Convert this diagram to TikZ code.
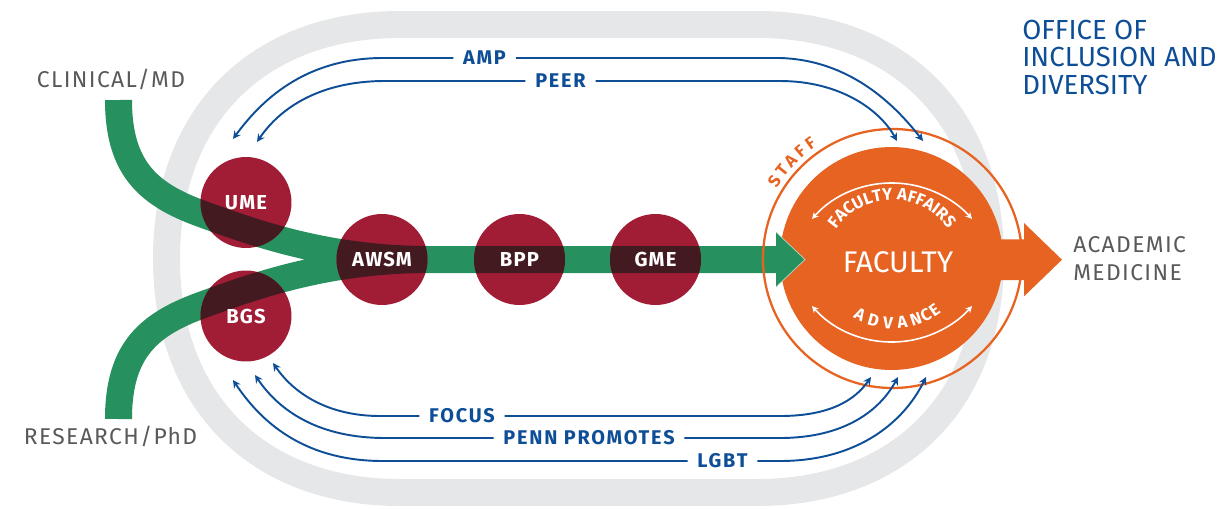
\documentclass[tikz,border=0pt]{standalone}
\usepackage{fontspec}
\setmainfont{Fira Sans}
\newfontfamily\spacedfont[LetterSpace=6]{Fira Sans}
\newfontfamily\widefont[LetterSpace=9]{Fira Sans}
\usetikzlibrary{arrows.meta,decorations.text,calc}
\definecolor{ringgray}{RGB}{230,231,232}
\definecolor{pathgreen}{RGB}{38,145,94}
\definecolor{circred}{RGB}{161,28,53}
\definecolor{darkover}{RGB}{68,26,33}
\definecolor{oidblue}{RGB}{14,78,150}
\definecolor{facorange}{RGB}{230,99,34}
\definecolor{labgray}{RGB}{88,89,91}
\newcommand\stagefont{\spacedfont\bfseries\fontsize{11.5}{13}\selectfont}
\newcommand\flowfont{\widefont\bfseries\fontsize{11.3}{13}\selectfont}
\newcommand\outerfont{\spacedfont\fontsize{13}{15.6}\selectfont}
\newcommand\oidfont{\fontsize{15.7}{15.65}\selectfont}
\newcommand\facbigfont{\fontsize{17}{18}\selectfont}
\newcommand\facarcfont{\color{white}\bfseries\fontsize{9.6}{11}\selectfont}
\newcommand\smallarcfont{\bfseries\fontsize{9.6}{11}\selectfont}
\begin{document}
\begin{tikzpicture}[x=0.02cm,y=-0.02cm,
  greenband/.style={line width=0.54cm, draw=pathgreen},
  stagecirc/.style={circle, fill=circred, minimum size=1.82cm, inner sep=0pt},
  stagetext/.style={text=white, font=\stagefont, inner sep=0pt},
  flowlbl/.style={text=oidblue, font=\flowfont, inner xsep=0.19cm, inner ysep=0pt},
  bl/.style={draw=oidblue, line width=1.1pt, >={Stealth[length=4.5pt,width=4.5pt]}},
  warc/.style={draw=white, line width=0.9pt, >={Stealth[length=3.8pt,width=3.8pt]}},
  outlbl/.style={text=labgray, font=\outerfont, inner sep=0pt},
  advlbl/.style={text=white, font=\smallarcfont, inner sep=0pt},
  stafflbl/.style={text=facorange, font=\smallarcfont, inner sep=0pt}]
\useasboundingbox (0,0) rectangle (1232,508);

% grey track
\draw[ringgray, line width=0.54cm] (400,24.5) -- (757,24.5)
  .. controls (899.4,24.5) and (990.5,115.8) .. (990.5,258.5)
  .. controls (990.5,401.2) and (899.4,492.5) .. (757,492.5) -- (400,492.5)
  .. controls (257.6,492.5) and (166.5,401.2) .. (166.5,258.5)
  .. controls (166.5,115.8) and (257.6,24.5) .. (400,24.5) -- cycle;

% green routes
\coordinate (mdstart) at (118.5,100);
\coordinate (phdstart) at (118.5,419);
\coordinate (join) at (430,259.5);
\coordinate (shaftend) at (777,259.5);
\def\greenroutes{(mdstart) .. controls (118.5,170) and (150,195) .. (202,214)
  .. controls (260,235) and (330,259.5) .. (join) -- (shaftend)
  (phdstart) .. controls (118.5,349) and (150,324) .. (202,305)
  .. controls (260,284) and (330,259.5) .. (join)}
\draw[greenband] \greenroutes;

% stages
\node[stagecirc] (ume) at (246,202.5) {};
\node[stagecirc] (bgs) at (246,316) {};
\node[stagecirc] (awsm) at (382,259.5) {};
\node[stagecirc] (bpp) at (519.5,259.5) {};
\node[stagecirc] (gme) at (655.5,259.5) {};
\begin{scope}
  \clip (ume.center) circle[radius=45.5] (bgs.center) circle[radius=45.5]
    (awsm.center) circle[radius=45.5] (bpp.center) circle[radius=45.5]
    (gme.center) circle[radius=45.5];
  \draw[greenband, draw=darkover] \greenroutes;
\end{scope}
\node[stagetext] (umet) at (ume.center) {UME};
\node[stagetext] (bgst) at (bgs.center) {BGS};
\node[stagetext] (awsmt) at (awsm.center) {AWSM};
\node[stagetext] (bppt) at (bpp.center) {BPP};
\node[stagetext] (gmet) at (gme.center) {GME};

% faculty
\fill[facorange] (990,239.3) -- (1024,239.3) -- (1024,223) -- (1062,259.7)
  -- (1024,296.4) -- (1024,280.1) -- (990,280.1) -- cycle;
\node[circle, fill=facorange, minimum size=4.46cm, inner sep=0pt] (facdisk) at (891.5,258.5) {};
\draw[facorange, line width=1.3pt] (892.5,258.5) circle[radius=129.5];
\fill[pathgreen] (776,232) -- (805,259.5) -- (776,287) -- cycle;
\draw[white!65!pathgreen, line width=0.4pt] (776,232) -- (805,259.5) -- (776,287);
\node[text=white, font=\facbigfont, inner sep=0pt] (factxt) at (898,262) {FACULTY};

\coordinate (faatop) at (892,290);
\coordinate (advbot) at (892,235);
\draw[warc, <->] ([shift={(-138.4:107)}]faatop) arc[start angle=-138.4, end angle=-41.6, radius=107];
\draw[warc, <->] ([shift={(138.4:107)}]advbot) arc[start angle=138.4, end angle=41.6, radius=107];
\coordinate (faac) at (892,268);
\path[decorate, decoration={text along path, text align=center,
  text={|\facarcfont|FACULTY AFFAIRS}}]
  ([shift={(-170:68)}]faac) arc[start angle=-170, end angle=-10, radius=68];
\coordinate (advc) at (893,251);
\foreach \ch/\a [count=\i] in {A/242.6, D/254.2, V/266, A/277.5, N/288.5, C/297, E/305}
  \node[advlbl, rotate=\a+90] (adv\i) at ([shift={(-\a:72)}]advc) {\ch};
\coordinate (staffc) at (892,258.5);
\foreach \ch/\a [count=\i] in {S/146.6, T/141.3, A/136, F/130.7, F/125.4}
  \node[stafflbl, rotate=\a-90] (staff\i) at ([shift={(-\a:141)}]staffc) {\ch};

% programmes (blue arrows)
\node[flowlbl] (amp) at (484.5,58) {AMP};
\node[flowlbl] (peer) at (560.5,81) {PEER};
\node[flowlbl] (focus) at (462,416) {FOCUS};
\node[flowlbl] (penn) at (589,438) {PENN PROMOTES};
\node[flowlbl] (lgbt) at (722.5,461) {LGBT};
\coordinate (ampL) at (233,139);   \coordinate (ampR) at (923,141);
\coordinate (peerL) at (257,142);  \coordinate (peerR) at (897,141);
\coordinate (focusL) at (273,363); \coordinate (focusR) at (871,377);
\coordinate (pennL) at (255,375);  \coordinate (pennR) at (898,377);
\coordinate (lgbtL) at (233,380);  \coordinate (lgbtR) at (926,377);
\draw[bl,<-] (ampL) .. controls (265,95) and (310,58) .. (383,58) -- (amp.west);
\draw[bl,->] (amp.east) -- (780,58) .. controls (850,60) and (895,105) .. (ampR);
\draw[bl,<-] (peerL) .. controls (280,108) and (320,81) .. (385,81) -- (peer.west);
\draw[bl,->] (peer.east) -- (780,81) .. controls (840,81) and (880,110) .. (peerR);
\draw[bl,<-] (focusL) .. controls (295,395) and (330,416) .. (380,416) -- (focus.west);
\draw[bl,->] (focus.east) -- (780,416) .. controls (830,416) and (855,400) .. (focusR);
\draw[bl,<-] (pennL) .. controls (280,412) and (320,438) .. (385,438) -- (penn.west);
\draw[bl,->] (penn.east) -- (780,438) .. controls (845,438) and (880,410) .. (pennR);
\draw[bl,<-] (lgbtL) .. controls (265,428) and (310,461) .. (383,461) -- (lgbt.west);
\draw[bl,->] (lgbt.east) -- (780,461) .. controls (860,461) and (905,420) .. (lgbtR);

% outer texts
\node[outlbl, anchor=base] (clin) at (111,87) {CLINICAL/MD};
\node[outlbl, anchor=base] (res) at (110.5,444) {RESEARCH/PhD};
\node[outlbl, anchor=base west, align=left] (acad) at (1073,280) {ACADEMIC\\MEDICINE};
\node[text=oidblue, font=\oidfont, inner sep=0pt, anchor=base west, align=left] (oid) at (1022,94.3) {OFFICE OF\\INCLUSION AND\\DIVERSITY};
\end{tikzpicture}
\end{document}
